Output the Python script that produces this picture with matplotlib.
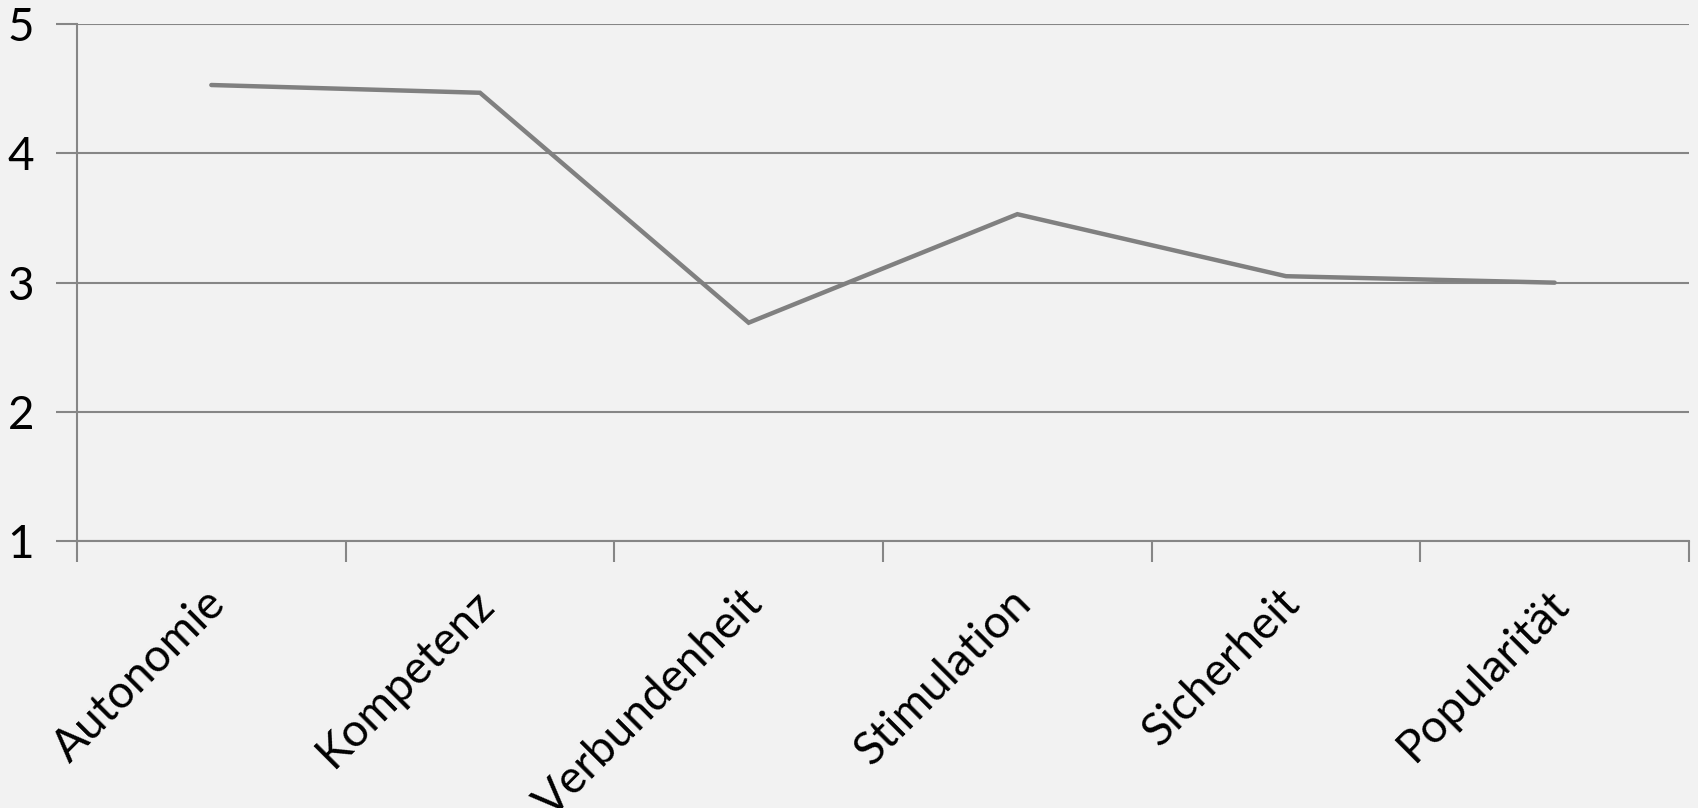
import matplotlib
matplotlib.use("Agg")
import matplotlib.pyplot as plt
from matplotlib.transforms import ScaledTranslation

categories = ["Autonomie", "Kompetenz", "Verbundenheit", "Stimulation", "Sicherheit", "Popularität"]
values = [4.53, 4.47, 2.69, 3.53, 3.05, 3.00]
y_ticks = [1, 2, 3, 4, 5]

W, H, DPI = 1698, 808, 100
bg = "#f2f2f2"
grey = "#868686"

plt.rcParams["font.family"] = ["Lato", "DejaVu Sans"]

fig = plt.figure(figsize=(W / DPI, H / DPI), dpi=DPI, facecolor=bg)
ax = fig.add_axes([77 / W, 1 - 541 / H, (1689 - 77) / W, (541 - 24.3) / H])
ax.set_facecolor(bg)

n = len(categories)
x = [i + 0.5 for i in range(n)]
ax.plot(x, values, color="#808080", lw=3.2, solid_capstyle="round",
        solid_joinstyle="miter", zorder=3)

ax.set_xlim(0, n)
ax.set_ylim(1, 5)

# horizontal gridlines
ax.set_yticks(y_ticks)
ax.yaxis.grid(True, color=grey, lw=1.5)
ax.set_axisbelow(True)
ax.tick_params(axis="y", length=15, width=1.5, color=grey, pad=16,
               labelsize=33, labelcolor="black")

# category boundaries as major ticks, labels on minor ticks at centres
ax.set_xticks(range(n + 1))
ax.set_xticklabels([])
ax.tick_params(axis="x", which="major", length=15, width=1.5, color=grey)
ax.set_xticks(x, minor=True)
ax.set_xticklabels(categories, minor=True, rotation=45, ha="right",
                   va="center", rotation_mode="anchor")
ax.tick_params(axis="x", which="minor", length=0, pad=40, labelsize=33)
shift = ScaledTranslation(7 / DPI, 0, fig.dpi_scale_trans)
for lab in ax.get_xticklabels(minor=True):
    lab.set_transform(lab.get_transform() + shift)

for s in ["top", "right"]:
    ax.spines[s].set_visible(False)
for s in ["left", "bottom"]:
    ax.spines[s].set_color(grey)
    ax.spines[s].set_linewidth(1.5)

fig.savefig("out.png", dpi=DPI, facecolor=bg)
